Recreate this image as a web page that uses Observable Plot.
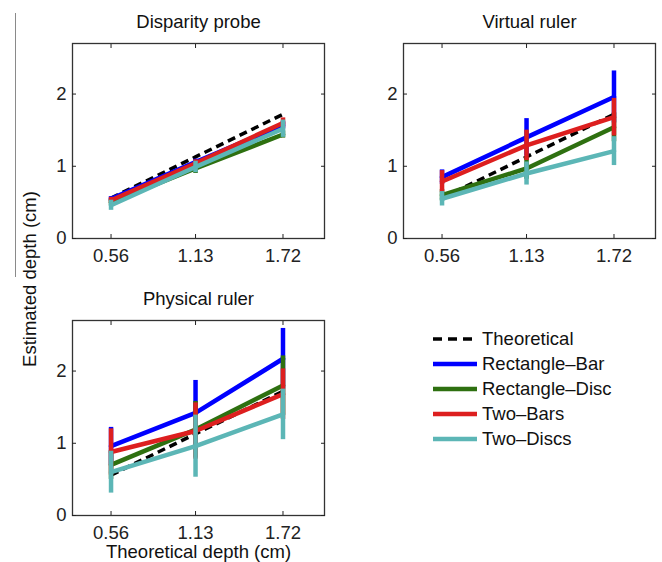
<!DOCTYPE html>
<html><head><meta charset="utf-8">
<script src="https://cdn.jsdelivr.net/npm/d3@7"></script>
<script src="https://cdn.jsdelivr.net/npm/@observablehq/plot@0.6"></script>
<style>
body{margin:0;background:#fff;}
#chart{position:relative;width:662px;height:562px;font-family:"Liberation Sans",Arial,sans-serif;color:#111;overflow:hidden;background:#fff}
.panel{position:absolute}
.ylab{position:absolute;left:30px;top:279px;transform:translate(-50%,-50%) rotate(-90deg);white-space:nowrap;font-size:18.5px}
.artifact{position:absolute;left:15px;top:13px;width:1px;height:264px;background:#8a8a8a}
.legend{position:absolute;left:433px;top:326px}
.legend .row{display:flex;align-items:center;height:25px;font-size:18.5px;white-space:nowrap}
.legend svg{margin-right:5px}
</style></head><body><div id="chart"></div>
<script>
const depths = [0.56, 1.13, 1.72];
const theoretical = [0.56, 1.13, 1.72];
const yTicks = [0, 1, 2];
const conditions = ["Rectangle–Bar", "Rectangle–Disc", "Two–Bars", "Two–Discs"];
const colors = ["#0000ff", "#2e7010", "#dd1f1f", "#5cb6b6"];
const panelTitles = ["Disparity probe", "Virtual ruler", "Physical ruler"];
const xAxisLabel = "Theoretical depth (cm)";
const yAxisLabel = "Estimated depth (cm)";
const legendTheoretical = "Theoretical";

// rows: conditions, columns: depths
const disparityMean = [[0.55, 1.06, 1.57], [0.50, 0.97, 1.44], [0.53, 1.04, 1.60], [0.46, 0.99, 1.52]];
const disparityErr  = [[0.03, 0.04, 0.05], [0.04, 0.07, 0.05], [0.04, 0.05, 0.07], [0.07, 0.08, 0.12]];
const virtualMean   = [[0.85, 1.40, 1.96], [0.60, 0.97, 1.54], [0.79, 1.29, 1.68], [0.55, 0.90, 1.21]];
const virtualErr    = [[0.10, 0.26, 0.36], [0.08, 0.15, 0.20], [0.15, 0.21, 0.26], [0.10, 0.16, 0.20]];
const physicalMean  = [[0.96, 1.42, 2.17], [0.70, 1.19, 1.80], [0.88, 1.17, 1.68], [0.60, 0.96, 1.40]];
const physicalErr   = [[0.26, 0.45, 0.42], [0.20, 0.39, 0.41], [0.32, 0.39, 0.35], [0.29, 0.43, 0.35]];

const FONT = "18.5px";
function makePanel(title, means, errs, xLabel) {
  const rows = conditions.flatMap((c, i) => depths.map((d, j) => ({
    cond: c, x: d, y: means[i][j], lo: means[i][j] - errs[i][j], hi: means[i][j] + errs[i][j]
  })));
  const theo = depths.map((d, j) => ({x: d, y: theoretical[j]}));
  const marks = [
    Plot.line(theo, {x: "x", y: "y", stroke: "#000", strokeWidth: 3.5, strokeDasharray: "8,5", strokeLinecap: "butt"})
  ];
  conditions.forEach((c, i) => {
    const sub = rows.filter(r => r.cond === c);
    marks.push(Plot.ruleX(sub, {x: "x", y1: "lo", y2: "hi", stroke: colors[i], strokeWidth: 4.5, strokeLinecap: "butt"}));
    marks.push(Plot.line(sub, {x: "x", y: "y", stroke: colors[i], strokeWidth: 4.5}));
  });
  marks.push(Plot.frame({stroke: "#333", strokeWidth: 1.3}));
  marks.push(Plot.axisX(depths, {anchor: "bottom", tickSize: -4, tickPadding: 14, tickFormat: d3.format(".2f"), label: null, color: "#222", fontSize: FONT}));
  marks.push(Plot.axisX(depths, {anchor: "top", tickSize: -4, fill: "none", label: null, color: "#222"}));
  marks.push(Plot.axisY(yTicks, {anchor: "left", tickSize: -4, tickPadding: 10, tickFormat: d3.format("d"), label: null, color: "#222", fontSize: FONT}));
  marks.push(Plot.axisY(yTicks, {anchor: "right", tickSize: -4, fill: "none", label: null, color: "#222"}));
  marks.push(Plot.text([title], {frameAnchor: "top", lineAnchor: "middle", dy: -21, fontSize: FONT, fill: "#111"}));
  if (xLabel) marks.push(Plot.text([xLabel], {frameAnchor: "bottom", lineAnchor: "middle", dy: 37, fontSize: FONT, fill: "#111"}));
  return Plot.plot({
    width: 331,
    height: xLabel ? 285 : 270,
    marginLeft: 72, marginRight: 7, marginTop: 43, marginBottom: xLabel ? 47 : 32,
    x: {domain: [0.3, 2.0]},
    y: {domain: [0, 2.7]},
    style: {fontSize: FONT, fontFamily: "'Liberation Sans', Arial, sans-serif", color: "#111", background: "transparent", overflow: "visible"},
    marks
  });
}

const chart = document.getElementById("chart");
const placements = [
  {title: panelTitles[0], means: disparityMean, errs: disparityErr, left: 0, top: 0, xl: null},
  {title: panelTitles[1], means: virtualMean, errs: virtualErr, left: 331, top: 0, xl: null},
  {title: panelTitles[2], means: physicalMean, errs: physicalErr, left: 0, top: 277, xl: xAxisLabel}
];
placements.forEach(p => {
  const el = makePanel(p.title, p.means, p.errs, p.xl);
  el.classList.add("panel");
  el.style.left = p.left + "px";
  el.style.top = p.top + "px";
  el.style.position = "absolute";
  chart.appendChild(el);
});

const art = document.createElement("div");
art.className = "artifact";
chart.appendChild(art);

const ylab = document.createElement("div");
ylab.className = "ylab";
ylab.textContent = yAxisLabel;
chart.appendChild(ylab);

const legend = document.createElement("div");
legend.className = "legend";
const entries = [{label: legendTheoretical, color: "#000", dash: "9,6", w: 3.5}]
  .concat(conditions.map((c, i) => ({label: c, color: colors[i], dash: null, w: 4.5})));
entries.forEach(e => {
  const row = document.createElement("div");
  row.className = "row";
  const ns = "http://www.w3.org/2000/svg";
  const s = document.createElementNS(ns, "svg");
  s.setAttribute("width", 44); s.setAttribute("height", 10);
  const l = document.createElementNS(ns, "line");
  l.setAttribute("x1", 0); l.setAttribute("x2", 44); l.setAttribute("y1", 5); l.setAttribute("y2", 5);
  l.setAttribute("stroke", e.color); l.setAttribute("stroke-width", e.w);
  if (e.dash) l.setAttribute("stroke-dasharray", e.dash);
  s.appendChild(l);
  const t = document.createElement("span");
  t.textContent = e.label;
  row.appendChild(s); row.appendChild(t);
  legend.appendChild(row);
});
chart.appendChild(legend);
</script></body></html>
